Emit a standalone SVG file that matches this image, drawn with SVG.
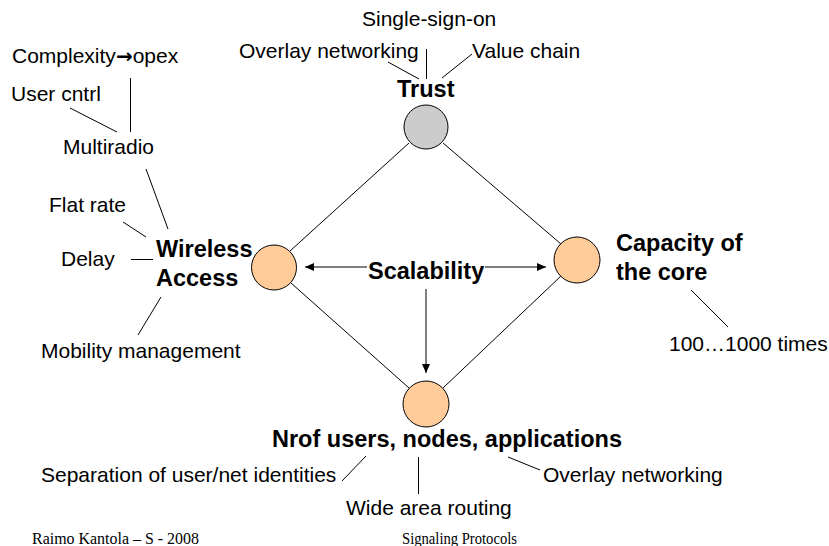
<svg xmlns="http://www.w3.org/2000/svg" width="829" height="546" viewBox="0 0 829 546">
<style>
.bg{fill:#ffffff}
.t{font-family:"Liberation Sans",Arial,sans-serif;font-size:21px;fill:#000}
.b{font-family:"Liberation Sans",Arial,sans-serif;font-size:23.5px;font-weight:bold;fill:#000}
.f{font-family:"Liberation Serif","Times New Roman",serif;font-size:16px;fill:#000}
.ar{font-family:"DejaVu Sans",sans-serif;font-weight:bold;font-size:20px}
.n{fill:#FFCC99;stroke:#000;stroke-width:1}
.g{fill:#CCCCCC;stroke:#000;stroke-width:1}
.c{stroke:#000;stroke-width:1;fill:none}
.a{stroke:#000;stroke-width:1;fill:none;marker-end:url(#ah)}
</style>
<defs>
<marker id="ah" markerUnits="userSpaceOnUse" markerWidth="9" markerHeight="8" refX="9" refY="4" orient="auto">
<path d="M0,0 L9,4 L0,8 z" fill="#000"/>
</marker>
</defs>
<rect class="bg" x="0" y="0" width="829" height="546"/>
<g id="connectors">
<line class="c" x1="409" x2="290" y1="143" y2="251"/>
<line class="c" x1="443" x2="561" y1="143" y2="244"/>
<line class="c" x1="291" x2="409" y1="283" y2="388"/>
<line class="c" x1="561" x2="443" y1="276" y2="388"/>
<line class="a" x1="367" y1="267" x2="305" y2="267"/>
<line class="a" x1="485" y1="267" x2="546" y2="267"/>
<line class="a" x1="426" y1="289" x2="426" y2="373"/>
<line class="c" x1="130.5" y1="78" x2="130.5" y2="132"/>
<line class="c" x1="70" y1="108" x2="117" y2="132"/>
<line class="c" x1="146" y1="169" x2="168" y2="229"/>
<line class="c" x1="123" y1="222" x2="146" y2="237"/>
<line class="c" x1="131" y1="259.5" x2="153" y2="259.5"/>
<line class="c" x1="161" y1="297" x2="138" y2="335"/>
<line class="c" x1="388" y1="62" x2="419" y2="79"/>
<line class="c" x1="426.5" y1="49" x2="426.5" y2="79"/>
<line class="c" x1="472" y1="54" x2="442" y2="78"/>
<line class="c" x1="691" y1="290" x2="728" y2="327"/>
<line class="c" x1="342" y1="481" x2="366" y2="456"/>
<line class="c" x1="418.5" y1="457" x2="418.5" y2="494"/>
<line class="c" x1="508" y1="457" x2="540" y2="470"/>
</g>
<g id="trust">
<circle class="g" cx="426" cy="127" r="22"/>
<text class="b" x="397" y="97">Trust</text>
</g>
<g id="wireless">
<circle class="n" cx="274" cy="267.5" r="22.5"/>
<text class="b" x="156" y="257">Wireless</text>
<text class="b" x="156" y="286">Access</text>
</g>
<g id="capacity">
<circle class="n" cx="577" cy="260" r="23"/>
<text class="b" x="616" y="251">Capacity of</text>
<text class="b" x="616" y="280">the core</text>
</g>
<g id="nrof">
<circle class="n" cx="426" cy="404" r="23"/>
<text class="b" x="272" y="447">Nrof users, nodes, applications</text>
</g>
<g id="scalability">
<text class="b" x="368" y="279">Scalability</text>
</g>
<g id="labels">
<text class="t" x="12" y="63">Complexity<tspan class="ar">→</tspan>opex</text>
<text class="t" x="11" y="101">User cntrl</text>
<text class="t" x="63" y="154">Multiradio</text>
<text class="t" x="49" y="212">Flat rate</text>
<text class="t" x="61" y="266">Delay</text>
<text class="t" x="41" y="358">Mobility management</text>
<text class="t" x="362" y="26">Single-sign-on</text>
<text class="t" x="239" y="58">Overlay networking</text>
<text class="t" x="472" y="58">Value chain</text>
<text class="t" x="669" y="351">100…1000 times</text>
<text class="t" x="41" y="482">Separation of user/net identities</text>
<text class="t" x="346" y="515">Wide area routing</text>
<text class="t" x="543" y="482">Overlay networking</text>
</g>
<g id="footer">
<text class="f" x="32" y="544" textLength="167" lengthAdjust="spacingAndGlyphs">Raimo Kantola – S - 2008</text>
<text class="f" x="402" y="544" textLength="115" lengthAdjust="spacingAndGlyphs">Signaling Protocols</text>
</g>
</svg>
